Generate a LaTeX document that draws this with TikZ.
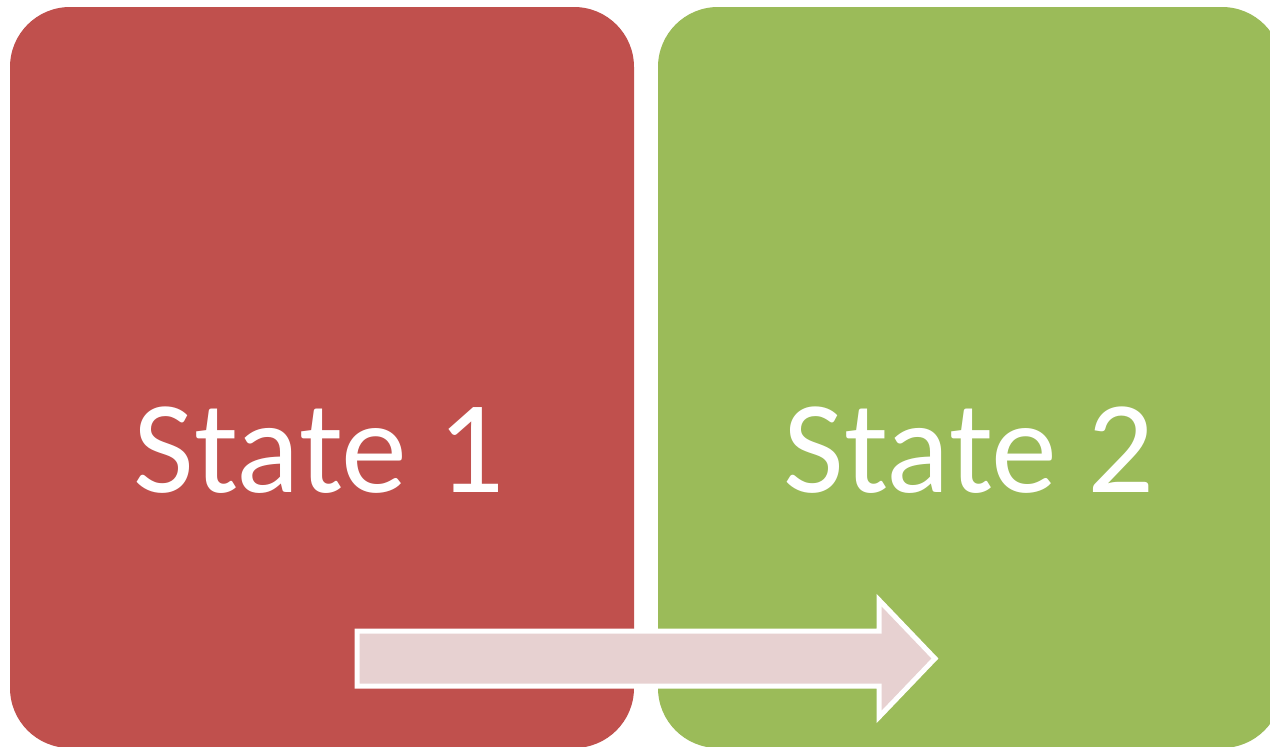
\documentclass[tikz,border=0pt]{standalone}
\usepackage{fontspec}
\setmainfont{Carlito}
\definecolor{boxred}{HTML}{C0504D}
\definecolor{boxgreen}{HTML}{9BBB59}
\definecolor{arrowpink}{HTML}{E7D1D1}
\begin{document}
\begin{tikzpicture}[x=1pt,y=-1pt,
  statebox/.style={rounded corners=60pt, minimum width=624pt, minimum height=741pt, inner sep=0pt, draw=none},
  statetext/.style={text=white, font=\fontsize{132}{160}\selectfont, inner sep=0pt, anchor=base}]
\useasboundingbox (0,0) rectangle (1270,747);
\clip (0,0) rectangle (1270,747);
\fill[white] (0,0) rectangle (1270,747);
\node[statebox, fill=boxred] (s1) at (322,377.5) {};
\node[statebox, fill=boxgreen] (s2) at (970,377.5) {};
\node[statetext] (t1) at (319,492) {State 1};
\node[statetext] (t2) at (969,492) {State 2};
\draw[white, line width=5pt, fill=arrowpink, line join=miter]
  (357,631) -- (879,631) -- (879,600) -- (935,658.5) -- (879,717) -- (879,686) -- (357,686) -- cycle;
\end{tikzpicture}
\end{document}
